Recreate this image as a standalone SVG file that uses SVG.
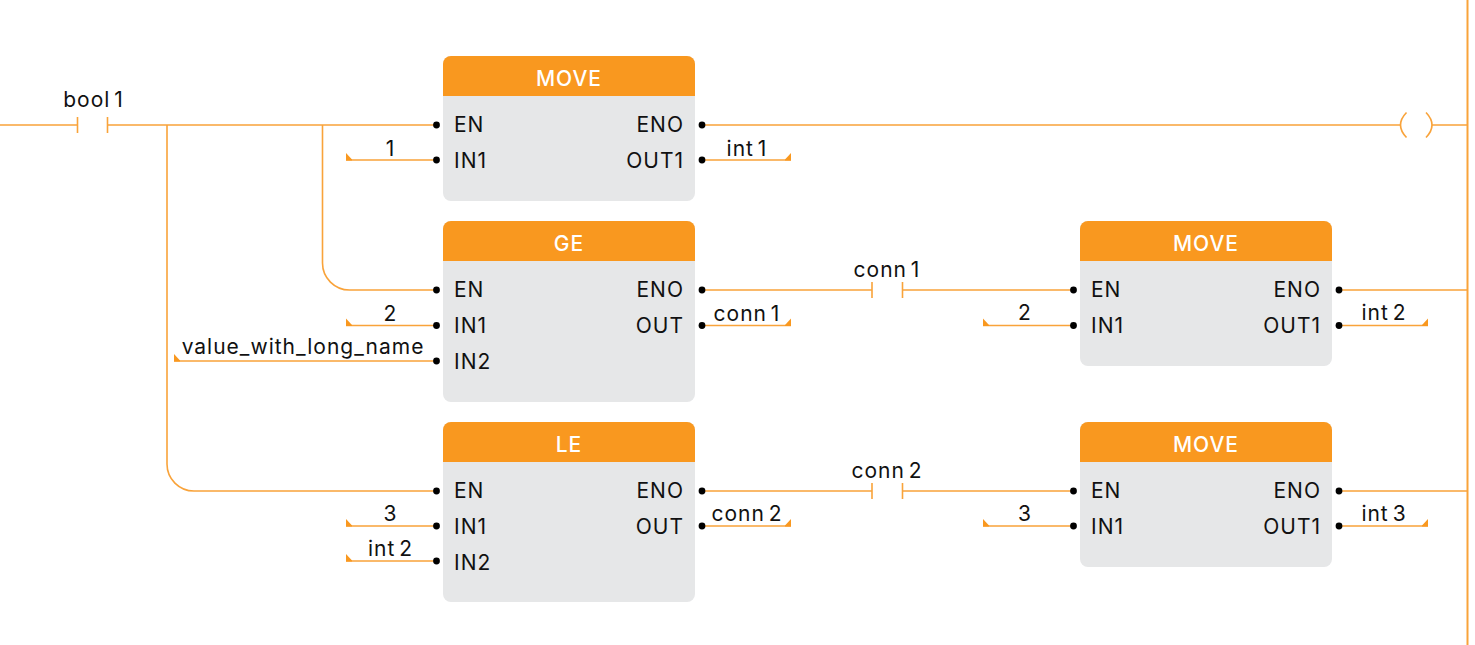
<svg xmlns="http://www.w3.org/2000/svg" width="1475" height="645" viewBox="0 0 1475 645">
<style>
text{font-family:Inter,"Open Sans","Liberation Sans",sans-serif;font-size:21px;letter-spacing:1px;word-spacing:-3px;fill:#111;transform:translateY(.6px)}
.m{text-anchor:middle}.e{text-anchor:end}
.t{fill:#fff;font-weight:500;text-anchor:middle}
.b{fill:#e6e7e8}.h{fill:#f9981f}
.w{fill:none;stroke:#f9a33a;stroke-width:1.6}
.rail{fill:none;stroke:#f9a33a;stroke-width:2}
.d{fill:#000}.f{fill:#f9981f}
</style>
<defs>
<circle id="dot" class="d" r="3.4"/>
<path id="tl" class="f" d="M0 0L6 6.5V7.5H0Z"/>
<path id="tr" class="f" d="M6 0L0 6.5V7.5H6Z"/>
<path id="hdr" class="h" d="M0 40V8a8 8 0 0 1 8-8H244a8 8 0 0 1 8 8V40Z"/>
</defs>
<g id="connectors">
<path class="rail" d="M1467.500 0V645"/>
<path class="w" d="M0 125H77.500M77.500 117V133M107.500 117V133M107.500 125H436"/>
<path class="w" d="M167 125V464a27 27 0 0 0 27 27H436"/>
<path class="w" d="M322.500 125V263a27 27 0 0 0 27 27H436"/>
<path class="w" d="M346 160H436M174 361H436M346 325.500H436M346 526H436M346 561H436"/>
<path class="w" d="M702 125H1400.500M1432 125H1467"/>
<path class="w" d="M1406.500 112.500Q1394.500 125 1406.500 137.500M1426 112.500Q1438 125 1426 137.500"/>
<path class="w" d="M702 160H791M702 325.500H791M702 526H791"/>
<path class="w" d="M702 290H872M872 282V298M902.500 282V298M902.500 290H1073"/>
<path class="w" d="M702 491H872M872 483V499M902.500 483V499M902.500 491H1073"/>
<path class="w" d="M983 325.500H1073M983 526H1073M1339 290H1467M1339 491H1467M1339 325.500H1428M1339 526H1428"/>
<use href="#tl" x="346" y="153"/><use href="#tl" x="346" y="318.500"/><use href="#tl" x="174" y="354"/><use href="#tl" x="346" y="519"/><use href="#tl" x="346" y="554"/>
<use href="#tl" x="983" y="318.500"/><use href="#tl" x="983" y="519"/>
<use href="#tr" x="785" y="153"/><use href="#tr" x="785" y="318.500"/><use href="#tr" x="785" y="519"/>
<use href="#tr" x="1422" y="318.500"/><use href="#tr" x="1422" y="519"/>
<text class="m" x="93.500" y="106">bool 1</text>
<text class="m" x="390.500" y="155">1</text>
<text class="m" x="747" y="155">int 1</text>
<text class="m" x="390.500" y="320">2</text>
<text class="m" x="303" y="353">value_with_long_name</text>
<text class="m" x="747" y="320">conn 1</text>
<text class="m" x="887" y="276">conn 1</text>
<text class="m" x="1025" y="319">2</text>
<text class="m" x="1384" y="319">int 2</text>
<text class="m" x="390.500" y="520">3</text>
<text class="m" x="390.500" y="555">int 2</text>
<text class="m" x="747" y="520">conn 2</text>
<text class="m" x="887" y="477">conn 2</text>
<text class="m" x="1025" y="520">3</text>
<text class="m" x="1384" y="520">int 3</text>
</g>
<g id="move1" transform="translate(443 56)">
<rect class="b" width="252" height="145" rx="8"/><use href="#hdr"/>
<text class="t" x="126" y="29">MOVE</text>
<text x="11" y="75">EN</text><text x="11" y="111">IN1</text>
<text class="e" x="241" y="75">ENO</text><text class="e" x="241" y="111">OUT1</text>
<use href="#dot" x="-6.500" y="69"/><use href="#dot" x="-6.500" y="104"/><use href="#dot" x="259" y="69"/><use href="#dot" x="259" y="104"/>
</g>
<g id="ge" transform="translate(443 221)">
<rect class="b" width="252" height="181" rx="8"/><use href="#hdr"/>
<text class="t" x="126" y="29">GE</text>
<text x="11" y="75">EN</text><text x="11" y="111">IN1</text><text x="11" y="147">IN2</text>
<text class="e" x="241" y="75">ENO</text><text class="e" x="241" y="111">OUT</text>
<use href="#dot" x="-6.500" y="69"/><use href="#dot" x="-6.500" y="104.500"/><use href="#dot" x="-6.500" y="140"/><use href="#dot" x="259" y="69"/><use href="#dot" x="259" y="104.500"/>
</g>
<g id="le" transform="translate(443 422)">
<rect class="b" width="252" height="180" rx="8"/><use href="#hdr"/>
<text class="t" x="126" y="29">LE</text>
<text x="11" y="75">EN</text><text x="11" y="111">IN1</text><text x="11" y="147">IN2</text>
<text class="e" x="241" y="75">ENO</text><text class="e" x="241" y="111">OUT</text>
<use href="#dot" x="-6.500" y="69"/><use href="#dot" x="-6.500" y="104"/><use href="#dot" x="-6.500" y="139"/><use href="#dot" x="259" y="69"/><use href="#dot" x="259" y="104"/>
</g>
<g id="move2" transform="translate(1080 221)">
<rect class="b" width="252" height="145" rx="8"/><use href="#hdr"/>
<text class="t" x="126" y="29">MOVE</text>
<text x="11" y="75">EN</text><text x="11" y="111">IN1</text>
<text class="e" x="241" y="75">ENO</text><text class="e" x="241" y="111">OUT1</text>
<use href="#dot" x="-6.500" y="69"/><use href="#dot" x="-6.500" y="104.500"/><use href="#dot" x="259" y="69"/><use href="#dot" x="259" y="104.500"/>
</g>
<g id="move3" transform="translate(1080 422)">
<rect class="b" width="252" height="145" rx="8"/><use href="#hdr"/>
<text class="t" x="126" y="29">MOVE</text>
<text x="11" y="75">EN</text><text x="11" y="111">IN1</text>
<text class="e" x="241" y="75">ENO</text><text class="e" x="241" y="111">OUT1</text>
<use href="#dot" x="-6.500" y="69"/><use href="#dot" x="-6.500" y="104"/><use href="#dot" x="259" y="69"/><use href="#dot" x="259" y="104"/>
</g>
</svg>
